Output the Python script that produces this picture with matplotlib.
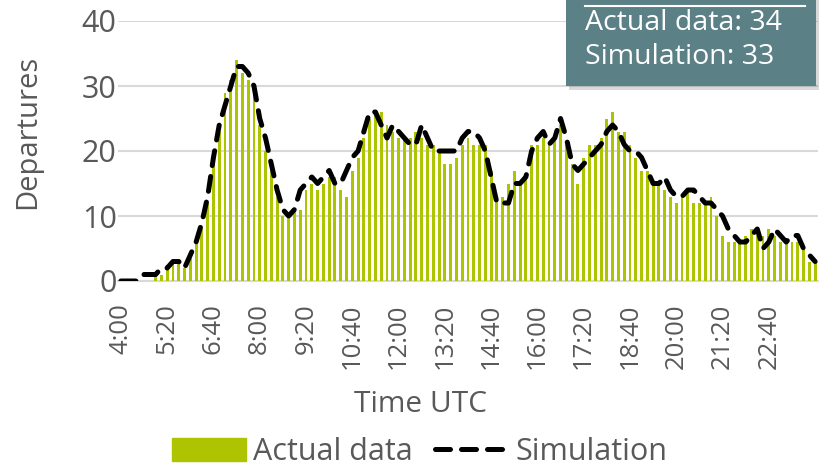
import matplotlib
matplotlib.use("Agg")
import matplotlib.pyplot as plt
import numpy as np
from matplotlib.patches import FancyBboxPatch, Rectangle
from matplotlib.lines import Line2D

plt.rcParams['font.family'] = ['Open Sans', 'DejaVu Sans']

# 10-minute slots from 4:00 to 24:00
start_minutes = 4 * 60
n_slots = 121
time_labels = ["%d:%02d" % ((start_minutes + 10 * k) // 60, (start_minutes + 10 * k) % 60) for k in range(n_slots)]

actual = [0, 0, 0, 0, 0, 0, 1, 1, 2, 3, 3, 2, 4, 6, 8, 12, 19, 23, 29, 31,
          34, 32, 31, 29, 24, 20, 17, 13, 10, 10, 11, 11, 14, 15, 14, 15, 16, 16, 14, 13,
          17, 19, 22, 25, 26, 26, 24, 23, 22, 22, 22, 23, 22, 21, 21, 20, 18, 18, 19, 21,
          22, 21, 21, 21, 17, 13, 13, 15, 17, 15, 16, 21, 21, 22, 21, 22, 24, 21, 18, 15,
          19, 21, 21, 22, 25, 26, 23, 23, 21, 19, 17, 17, 15, 15, 14, 13, 12, 13, 14, 12,
          12, 12, 13, 10, 7, 6, 6, 6, 7, 8, 7, 7, 8, 7, 6, 6, 6, 6, 5, 3,
          3]

simulation = [0, 0, 0, 0, 1, 1, 1, 2, 2, 3, 3, 2, 4, 6, 9, 13, 19, 24, 27, 30,
              33, 33, 32, 30, 25, 22, 18, 14, 11, 10, 11, 14, 15, 16, 15, 16, 17, 15, 15, 17,
              19, 20, 23, 26, 26, 24, 22, 24, 23, 22, 21, 21, 24, 22, 20, 20, 20, 20, 20, 22,
              23, 23, 22, 20, 16, 12, 12, 12, 15, 15, 16, 20, 22, 23, 21, 22, 25, 22, 18, 17,
              18, 19, 20, 21, 23, 24, 23, 21, 20, 20, 19, 17, 15, 15, 16, 14, 13, 13, 14, 14,
              13, 12, 12, 11, 10, 8, 7, 6, 6, 7, 8, 5, 6, 8, 7, 6, 7, 7, 5, 4,
              3]

tick_every = 8
last_tick = 112  # 22:40
y_ticks = [0, 10, 20, 30, 40]

bar_color = "#AFC400"
text_color = "#595959"
grid_color = "#D9D9D9"
dash_style = (0, (3.0, 2.2))

fig = plt.figure(figsize=(8.22, 4.68), dpi=100)
ax = fig.add_axes([118 / 822, 1 - 281 / 468, 700 / 822, 260 / 468])

x = np.arange(n_slots)
ax.bar(x, actual, width=0.5, color=bar_color, zorder=2, label="Actual data")
ax.plot(x, simulation, color="black", lw=3.6, linestyle=dash_style,
        dash_capstyle="round", zorder=3, label="Simulation")

ax.set_xlim(-0.5, n_slots - 0.5)
ax.set_ylim(0, 40)
ax.set_yticks(y_ticks)
ax.yaxis.grid(True, color=grid_color, lw=1.5, zorder=0)
ax.set_axisbelow(True)
for s in ["top", "right", "left"]:
    ax.spines[s].set_visible(False)
ax.spines["bottom"].set_color(grid_color)
ax.spines["bottom"].set_linewidth(1.5)
ax.spines["bottom"].set_zorder(1)

tick_idx = x[:last_tick + 1:tick_every]
ax.set_xticks(tick_idx)
ax.set_xticklabels([time_labels[k] for k in tick_idx], rotation=90, fontsize=18.5, color=text_color)
ax.tick_params(axis="both", length=0)
ax.tick_params(axis="x", pad=16)
ax.tick_params(axis="y", labelsize=22, labelcolor=text_color, pad=1)

ax.set_ylabel("Departures", fontsize=21, color=text_color)
ax.yaxis.set_label_coords((28 - 118) / 700, (281 - 132) / 260)
ax.set_xlabel("Time UTC", fontsize=21.5, color=text_color)
ax.xaxis.set_label_coords((420 - 118) / 700, (281 - 405) / 260)
ax.xaxis.label.set_va("center")
ax.yaxis.label.set_va("center")

handles = [Rectangle((0, 0), 1, 1, color=bar_color),
           Line2D([0], [0], color="black", lw=3.6, linestyle=dash_style, dash_capstyle="round")]
leg = fig.legend(handles, ["Actual data", "Simulation"], loc="center", bbox_to_anchor=(420 / 822, 1 - 452 / 468),
                 ncol=2, frameon=False, fontsize=22, handlelength=2.4, handleheight=0.75,
                 columnspacing=0.7, handletextpad=0.25, labelcolor=text_color)

# tooltip box (top-right)
box = FancyBboxPatch((566 / 822, 1 - 86 / 468), 250 / 822, 90 / 468,
                     boxstyle="square,pad=0", transform=fig.transFigure,
                     facecolor="#5B8187", edgecolor="none", zorder=10)
shadow = FancyBboxPatch((569 / 822, 1 - 90 / 468), 250 / 822, 90 / 468,
                        boxstyle="square,pad=0", transform=fig.transFigure,
                        facecolor="#000000", alpha=0.15, edgecolor="none", zorder=9)
fig.patches.extend([shadow, box])
fig.lines.append(Line2D([585 / 822, 805 / 822], [1 - 6 / 468, 1 - 6 / 468], transform=fig.transFigure,
                        color="white", lw=1.5, zorder=11))
fig.text(585 / 822, 1 - 23 / 468, "Actual data: %d" % actual[20], color="white", fontsize=20.5,
         va="center", ha="left", zorder=11)
fig.text(585 / 822, 1 - 57 / 468, "Simulation: %d" % simulation[20], color="white", fontsize=20.5,
         va="center", ha="left", zorder=11)

fig.savefig("out.png", dpi=100)
